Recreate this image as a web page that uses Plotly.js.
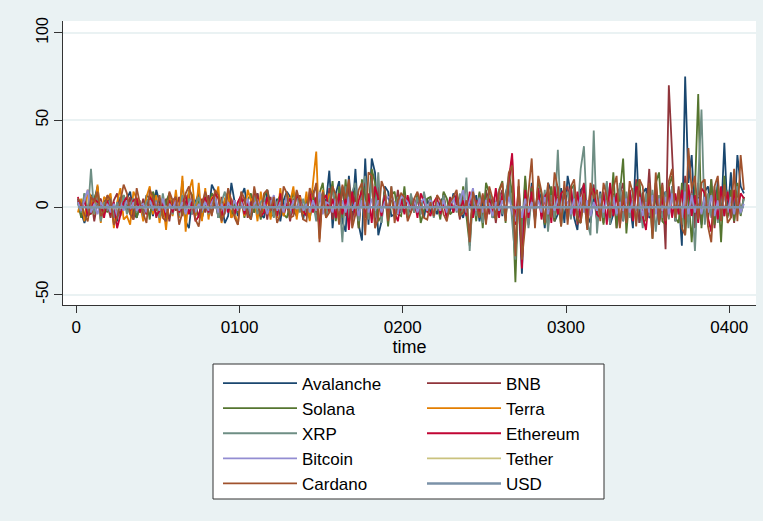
<!DOCTYPE html>
<html>
<head>
<meta charset="utf-8">
<script src="https://cdn.plot.ly/plotly-3.0.1.min.js"></script>
<style>html,body{margin:0;padding:0;background:#EAF2F3;}#chart{width:763px;height:521px;}</style>
</head>
<body>
<div id="chart"></div>
<script>
// time index step between observations (every other period)
const timeStep = 2;
const timeStart = 1;
const xTickVals = [0, 100, 200, 300, 400];
const xTickText = ['0', '0100', '0200', '0300', '0400'];
const yTickVals = [-50, 0, 50, 100];
const yTickText = ['-50', '0', '50', '100'];
const xTitle = 'time';

const seriesNames = ['Avalanche','BNB','Solana','Terra','XRP','Ethereum','Bitcoin','Tether','Cardano','USD'];

const avalanche = [
5,-3,-9,-2,7,4,12,-5,3,6,
2,-4,-8,6,1,5,9,-3,-6,2,
-2,7,5,-5,10,3,-4,-7,6,1,
4,-3,15,-8,-12,5,3,8,-6,2,
-4,13,9,-6,2,-9,-5,14,3,-5,
6,11,-2,-7,3,8,-4,-6,10,2,
-3,5,-8,4,9,6,-2,-5,3,-7,
4,-6,8,12,-10,6,3,21,-12,8,
15,-8,-14,18,-6,22,-10,-19,28,-10,
28,20,-16,-8,12,9,-5,-4,6,-3,
3,-5,6,2,-2,4,-6,5,-3,1,
-4,3,6,-5,-2,8,4,-2,-6,3,
2,-4,7,-8,3,5,9,-6,-3,4,
-5,8,15,-4,-10,6,-38,12,-8,14,
-6,10,5,-12,14,9,-8,-4,11,-9,
18,8,-6,-13,10,12,-4,-9,6,-7,
9,-5,14,-10,-4,7,11,-8,6,3,
-12,37,-9,8,11,-6,-4,7,-10,5,
9,-5,12,-8,6,-22,75,14,30,-8,
6,-10,9,12,-4,-6,15,-7,37,-5,
20,-8,30,12,8];

const bnb = [
4,-5,7,-3,6,-8,3,5,-4,2,
-6,4,8,-5,3,-2,6,-7,4,-3,
5,-4,3,7,-6,2,-3,5,-8,4,
-2,6,-5,3,8,-4,2,-6,5,-3,
7,-4,3,-5,6,-2,9,-6,4,-3,
2,5,-6,4,-3,8,-5,3,-7,6,
-4,3,6,-5,2,-8,5,-3,7,-2,
5,-6,9,-3,-10,8,-4,11,-7,6,
-8,12,-5,14,-9,8,-12,10,15,-7,
18,-10,12,-6,9,-5,7,-4,10,-3,
4,-6,7,-2,5,-4,8,-3,6,-5,
3,-5,8,-4,6,-3,4,-7,9,-2,
-14,6,-5,8,-7,10,-4,6,-9,5,
10,-6,14,28,-30,8,-28,16,-10,12,
-7,10,-5,8,-11,6,-8,12,-6,9,
12,-6,9,-10,7,14,-5,10,13,-8,
6,-9,11,-5,8,-12,7,14,-6,10,
-7,16,-9,8,-5,22,-10,12,-8,14,
-24,70,27,-8,12,-10,18,-6,10,-12,
14,-8,10,-7,16,-12,9,-6,12,-5,
8,-9,11,-4,6];

const solana = [
3,-6,8,-2,-4,5,10,-7,2,-3,
6,-9,-5,3,7,2,-4,5,-6,1,
-3,5,-7,9,4,-2,-5,3,8,-4,
6,-3,2,-8,10,7,-5,4,-6,3,
-2,8,5,-4,-7,3,9,-5,2,-3,
5,-6,4,8,-3,2,-7,6,10,-4,
-5,3,7,-4,-6,2,9,-3,5,-2,
4,-7,6,-3,8,14,-5,3,15,-8,
12,-6,16,-9,5,10,-12,16,7,-6,
22,14,-8,-5,10,-11,7,9,-4,-5,
12,-6,4,-3,8,-9,-2,5,6,-4,
3,-7,9,5,-4,-2,7,-5,12,-6,
-22,6,-8,9,-12,14,8,-5,-6,10,
15,-9,20,8,-43,12,-14,18,-9,11,
-6,14,8,-10,-5,12,-8,6,-11,9,
-4,10,13,-7,-9,6,-12,8,11,-5,
7,-10,14,-6,20,-12,9,28,-15,8,
-6,12,16,-9,-7,10,-18,14,20,-8,
-10,12,18,-6,-9,14,-16,8,-20,10,
65,-12,9,-7,16,-10,12,-20,18,-6,
10,-8,14,-5,6];

const terra = [
-3,5,-8,10,6,-4,13,-9,6,4,
8,-12,3,11,-7,-5,-10,9,5,2,
-8,6,12,-4,7,-9,3,-13,8,-5,
10,-6,18,-14,9,16,-5,14,-8,11,
-7,6,3,12,-9,5,8,-6,-3,-10,
7,-5,10,4,6,-8,9,-3,5,-7,
4,-6,11,-5,8,3,12,-7,6,-4,
9,-8,14,32,-18,10,-6,8];

const xrp = [
2,-3,8,-5,22,-4,6,-8,3,-2,
5,-6,3,-2,7,-4,2,5,-3,4,
-5,3,6,-2,4,-6,8,-3,2,-4,
3,-5,7,-2,5,-4,2,6,-3,8,
-4,2,5,-6,3,9,-2,4,-5,3,
6,-3,2,-5,8,-4,3,5,-2,4,
-6,3,5,-2,7,-4,2,9,-3,5,
-4,6,3,-8,5,8,-6,4,10,-5,
7,-20,12,-6,9,14,-8,10,18,-7,
16,-6,20,-9,8,-4,12,-5,6,-3,
4,-5,8,-3,6,-4,9,-2,5,-6,
3,-4,7,-5,2,6,-3,8,-4,17,
-25,8,-5,6,-9,4,7,-6,3,10,
-4,6,18,-8,-30,10,-20,8,-12,6,
-8,12,-5,10,-14,7,-6,33,-10,6,
9,-7,12,-5,22,35,-8,-16,44,-15,
8,-6,15,-10,7,-5,14,-8,9,-6,
11,-9,6,-12,8,-5,10,-14,7,-6,
9,-7,12,-8,6,-10,14,-12,8,-25,
20,56,-10,8,-6,12,-9,7,-5,10,
-6,8,12,-4,5];

const ethereum = [
6,-2,4,-5,-3,5,3,2,-6,4,
-4,3,-12,-5,3,6,-2,4,5,-3,
2,-4,6,3,-5,-2,3,-6,4,-3,
5,-3,2,7,-4,3,-8,-5,2,6,
-3,4,8,5,-5,2,-3,5,-4,3,
7,-4,3,-2,9,5,-5,-3,6,-2,
3,-5,8,-3,2,5,-4,7,4,-2,
-5,9,-3,6,-12,4,7,-3,5,-6,
8,-4,6,-13,9,-5,4,10,-6,8,
-9,12,5,-5,7,-4,9,-3,-8,5,
-4,7,-3,5,-6,8,3,-2,-5,3,
6,-4,3,-7,5,-3,8,-2,4,-5,
9,-6,4,-3,7,-8,5,-4,11,-6,
8,-5,16,31,-10,12,-35,10,-6,9,
-5,11,-7,6,9,-9,12,-4,8,10,
-7,12,-5,9,-8,13,-6,7,11,-4,
-6,9,-10,14,-5,8,-11,6,-7,10,
-8,12,9,-5,-13,7,-6,14,-9,6,
-10,12,-6,8,-4,10,-7,13,-5,7,
-9,11,8,-6,-14,10,-7,12,-5,9,
-6,10,-4,8,5];

const bitcoin = [
3,-2,4,10,-3,2,-4,3,-1,2,
-3,2,-5,3,-2,4,-1,3,-2,1,
2,-3,4,-1,3,-2,5,-3,2,-1,
4,-2,3,-4,2,5,-3,2,-2,3,
-2,3,6,-3,2,-4,3,-1,4,-2,
3,-2,5,-3,2,4,-2,3,-4,2,
7,-2,3,-3,6,-2,4,-1,3,-2,
2,-3,4,-2,9,-4,3,2,-3,5,
-2,4,-3,6,-2,3,-5,4,2,-3,
5,-2,4,-3,3,6,5,3,-4,7,
5,3,-2,4,-3,3,5,-2,4,-2,
3,-2,4,-3,2,5,-2,3,10,-3,
4,11,-2,5,-3,4,2,-5,3,-2,
4,-3,6,-2,-8,4,-6,5,-3,3,
-2,4,-3,6,-4,3,-2,5,-3,4,
3,-4,5,-2,6,-3,4,-5,3,-2,
5,-3,4,-2,6,-4,3,-2,5,-3,
4,-2,6,-5,3,-3,7,-4,5,-2,
6,-4,8,-3,5,-6,9,-4,7,-3,
5,-4,6,-3,7,-5,4,-6,8,-3,
6,-4,5,-3,2];

const tether = [
0.2,-0.1,0.3,0,-0.2,0.1,0.4,-0.3,0.1,0,
-0.1,0.2,0,-0.3,0.1,0.2,-0.1,0,0.3,-0.2,
0.1,0,-0.2,0.2,0.1,-0.1,0,0.3,-0.2,0.1,
0,-0.1,0.2,0.1,-0.3,0,0.2,-0.1,0.1,0,
0.3,-0.2,0,0.1,-0.1,0.2,0,-0.2,0.1,0.2,
-0.1,0,0.2,-0.2,0.1,0,0.3,-0.1,0,0.1,
0.2,-0.3,0.1,0,-0.1,0.2,0.1,-0.2,0,0.1,
0,0.2,-0.1,0.1,-0.4,0.3,0,-0.1,0.2,0,
-0.2,0.1,0,0.3,-0.1,0,0.2,-0.3,0.4,0.1,
0.3,-0.2,0.1,0,-0.1,0.2,0,0.1,-0.2,0.1,
0,0.1,-0.1,0.2,0,-0.2,0.1,0,0.2,-0.1,
0.1,0,-0.2,0.1,0.2,-0.1,0,0.1,-0.1,0.3,
-0.4,0.2,0,0.1,-0.2,0.1,0.2,-0.1,0,0.1,
0.2,-0.1,0.3,0.5,-0.6,0.2,-0.4,0.3,-0.1,0.2,
0,0.2,-0.1,0.1,-0.2,0.3,0,-0.1,0.2,0,
-0.1,0.2,0,0.3,-0.2,0.1,0.4,-0.3,0.1,0,
0.2,-0.1,0.1,0,-0.2,0.3,0,0.1,-0.1,0.2,
0,0.3,-0.2,0.1,0,0.2,-0.3,0.1,0,0.2,
-0.3,0.4,0.1,-0.2,0.2,-0.1,0.3,0,-0.2,0.1,
0.3,0,-0.1,0.2,-0.2,0.1,0,0.2,-0.1,0.1,
0,0.2,-0.1,0.1,0];

const cardano = [
5,2,-4,-8,6,3,9,-5,-2,7,
4,-10,-6,3,13,8,-4,-7,11,2,
-3,-9,10,6,-2,7,-6,-8,9,4,
6,-10,-3,8,12,5,-7,-11,2,9,
3,-5,10,7,-8,-3,11,4,-6,-10,
9,5,-4,-7,12,2,-5,8,10,-2,
6,-9,-4,12,8,-6,-5,10,3,-7,
-8,11,6,14,-20,9,-6,-3,12,7,
-10,13,5,16,-12,-4,10,14,-16,20,
18,-12,-6,15,10,-8,12,-9,4,8,
6,-8,-3,5,9,2,-6,-7,3,-5,
7,4,-4,-8,3,6,10,-5,-3,4,
-20,9,2,-6,8,-10,12,5,-7,9,
14,-8,20,24,-28,16,-30,-12,10,28,
-12,18,9,-9,14,-6,20,11,-11,15,
-10,12,16,-6,-9,8,-13,14,5,10,
-8,14,6,-6,11,18,-12,10,-9,15,
8,-11,16,12,-8,14,-18,20,-10,13,
-8,15,22,-6,10,-12,-16,34,10,18,
-7,14,16,-11,-20,12,18,-8,13,-9,
-6,22,-8,30,10];

const usd = [
0.1,0,-0.1,0.2,0,-0.1,0.1,0,0.1,-0.2,
0,0.1,-0.1,0,0.2,-0.1,0,0.1,0,-0.1,
0.1,-0.1,0,0.2,-0.1,0,0.1,-0.2,0.1,0,
-0.1,0.1,0,-0.1,0.2,0,-0.1,0.1,0,0.1,
0,-0.2,0.1,0,0.1,-0.1,0,0.2,-0.1,0,
0.1,0,-0.1,0.1,0,0.2,-0.1,0,0.1,-0.1,
0,0.1,0,-0.2,0.1,0,0.1,-0.1,0,0.2,
-0.1,0,0.1,0,-0.1,0.2,0,-0.1,0.1,0,
0.1,-0.1,0,0.2,0,-0.1,0.1,0,-0.2,0.1,
0,0.1,-0.1,0,0.1,0,-0.1,0.2,0,-0.1,
0.1,0,0,-0.1,0.1,0,0.2,-0.1,0,0.1,
-0.1,0.1,0,0.1,-0.1,0,0.1,0,-0.2,0.1,
0,-0.1,0.2,0,-0.1,0.1,0,0.1,-0.1,0,
0.2,-0.1,0,0.1,-0.2,0.1,0,-0.1,0.1,0,
-0.1,0.1,0,0.2,-0.1,0,0.1,-0.1,0,0.1,
0,-0.1,0.1,0,0.2,-0.1,0,0.1,0,-0.1,
0.1,0,-0.1,0.1,0,-0.2,0.1,0,0.1,0,
-0.1,0.2,0,-0.1,0.1,0,-0.1,0.1,0,0.2,
0,-0.1,0.1,0,-0.2,0.1,0,0.1,-0.1,0,
0.1,0,-0.1,0.2,0,-0.1,0.1,0,0.1,-0.1,
0,0.1,-0.1,0,0.1];

const seriesValues = [avalanche, bnb, solana, terra, xrp, ethereum, bitcoin, tether, cardano, usd];
const seriesColors = ['#1a476f','#90353b','#55752f','#e37e00','#6e8e84','#c10534','#938dd2','#cac27e','#a0522d','#7b92a8'];
const seriesWidths = [1.8,1.8,1.8,1.8,1.8,1.8,1.8,1.8,1.8,2.4];

const traces = seriesValues.map((vals, k) => ({
  type: 'scatter',
  mode: 'lines',
  name: seriesNames[k],
  x: vals.map((v, i) => timeStart + timeStep * i),
  y: vals,
  line: {color: seriesColors[k], width: seriesWidths[k]},
  legend: (k % 2 === 0) ? 'legend' : 'legend2',
  hoverinfo: 'skip'
}));

const W = 763, H = 521;
const mL = 63, mR = 7, mT = 21, mB = 216;
const plotW = W - mL - mR, plotH = H - mT - mB;
function px2paperX(px) { return (px - mL) / plotW; }
function px2paperY(py) { return (H - mB - py) / plotH; }

const legendFont = {family: 'Liberation Sans, Arial, sans-serif', size: 17, color: '#000'};
const legendCommon = {
  xref: 'container', yref: 'container',
  xanchor: 'left', yanchor: 'top',
  bgcolor: 'rgba(0,0,0,0)', borderwidth: 0,
  font: legendFont, itemwidth: 74, tracegroupgap: 0,
  orientation: 'v', itemclick: false, itemdoubleclick: false
};

const layout = {
  width: W, height: H,
  margin: {l: mL, r: mR, t: mT, b: mB, pad: 0, autoexpand: false},
  paper_bgcolor: '#EAF2F3',
  plot_bgcolor: '#FFFFFF',
  showlegend: true,
  hovermode: false,
  xaxis: {
    range: [-8.15, 416.4],
    tickvals: xTickVals, ticktext: xTickText, tickangle: 0,
    ticks: 'outside', ticklen: 7, tickwidth: 1, tickcolor: '#333',
    showgrid: false, zeroline: false,
    showline: true, linecolor: '#333', linewidth: 1,
    tickfont: {family: 'Liberation Sans, Arial, sans-serif', size: 17, color: '#000'},
    title: {text: xTitle, font: {family: 'Liberation Sans, Arial, sans-serif', size: 18, color: '#000'}, standoff: 0},
    automargin: false,
    fixedrange: true
  },
  yaxis: {
    range: [-56.0, 106.8],
    tickvals: yTickVals, ticktext: yTickText,
    tickangle: -90,
    ticks: 'outside', ticklen: 8, tickwidth: 1, tickcolor: '#333',
    showgrid: true, gridcolor: '#EAF2F3', gridwidth: 1.5,
    zeroline: false,
    showline: true, linecolor: '#333', linewidth: 1,
    tickfont: {family: 'Liberation Sans, Arial, sans-serif', size: 16, color: '#000'},
    automargin: false,
    fixedrange: true
  },
  legend: Object.assign({}, legendCommon, {x: 218 / W, y: 1 - 365.5 / H}),
  legend2: Object.assign({}, legendCommon, {x: 422 / W, y: 1 - 365.5 / H}),
  shapes: [{
    type: 'rect', xref: 'paper', yref: 'paper', layer: 'below',
    x0: px2paperX(213), x1: px2paperX(604),
    y0: px2paperY(499), y1: px2paperY(364),
    line: {color: '#333', width: 1}, fillcolor: '#FFFFFF'
  }]
};

Plotly.newPlot('chart', traces, layout, {displayModeBar: false, staticPlot: false, responsive: false});
</script>
</body>
</html>
